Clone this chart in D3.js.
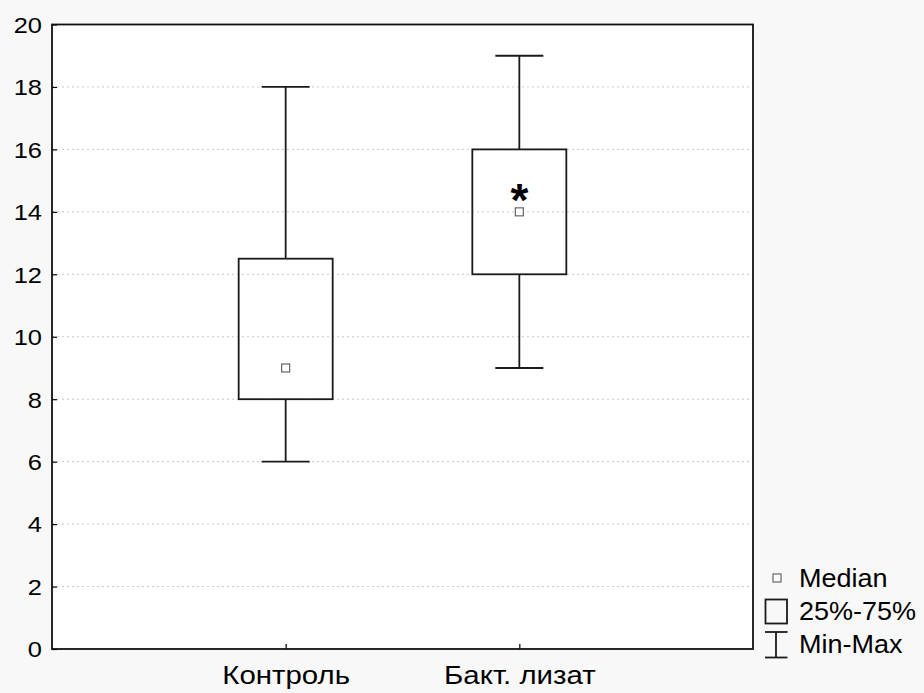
<!DOCTYPE html>
<html><head><meta charset="utf-8">
<script src="https://cdn.jsdelivr.net/npm/d3@7"></script>
<style>body{margin:0;background:#f8f8f8;}svg{display:block;}</style>
</head><body><svg id="c" width="924" height="693"></svg>
<script>
const categories = ["Контроль", "Бакт. лизат"];
const mins = [6, 9];
const q1s = [8, 12];
const medians = [9, 14];
const q3s = [12.5, 16];
const maxs = [18, 19];
const yTicks = [0, 2, 4, 6, 8, 10, 12, 14, 16, 18, 20];
const legendLabels = ["Median", "25%-75%", "Min-Max"];

const svg = d3.select("#c");
const m = {l: 52, r: 753, t: 24.5, b: 649};
const font = "Liberation Sans, Arial, sans-serif";
const x = d3.scalePoint().domain(categories).range([m.l, m.r]).padding(1);
const y = d3.scaleLinear().domain([0, 20]).range([m.b, m.t]);

function stretch(sel, k) {
  sel.each(function() {
    const w = this.getComputedTextLength();
    d3.select(this).attr("textLength", w * k).attr("lengthAdjust", "spacingAndGlyphs");
  });
}

svg.append("rect").attr("x", m.l).attr("y", m.t).attr("width", m.r - m.l).attr("height", m.b - m.t).attr("fill", "#fff");

// grid
svg.append("g").selectAll("line").data(yTicks.filter(d => d > 0 && d < 20)).join("line")
  .attr("x1", m.l).attr("x2", m.r).attr("y1", d => y(d)).attr("y2", d => y(d))
  .attr("stroke", "#c8c8c8").attr("stroke-dasharray", "2,3").attr("stroke-width", 1);

// y axis
const ya = svg.append("g").attr("transform", `translate(${m.l},0)`)
  .call(d3.axisLeft(y).tickValues(yTicks).tickSize(-5).tickPadding(10));
ya.select(".domain").remove();
ya.selectAll(".tick line").attr("stroke", "#000").attr("stroke-width", 1.2);
ya.selectAll("text").attr("font-family", font).attr("font-size", 22.5).attr("fill", "#000").attr("dy", "0.35em");
stretch(ya.selectAll("text"), 1.13);

// x axis
const xa = svg.append("g").attr("transform", `translate(0,${m.b})`)
  .call(d3.axisBottom(x).tickSize(-5).tickPadding(17));
xa.select(".domain").remove();
xa.selectAll(".tick line").attr("stroke", "#000").attr("stroke-width", 1.2);
xa.selectAll("text").attr("font-family", font).attr("font-size", 26).attr("fill", "#000");
stretch(xa.selectAll("text"), 1.13);

// frame
svg.append("rect").attr("x", m.l).attr("y", m.t).attr("width", m.r - m.l).attr("height", m.b - m.t)
  .attr("fill", "none").attr("stroke", "#111").attr("stroke-width", 1.8);

const boxW = 94, capW = 48;
const g = svg.append("g");
categories.forEach((c, i) => {
  const cx = x(c);
  const st = "#1a1a1a", sw = 1.8;
  g.append("line").attr("x1", cx).attr("x2", cx).attr("y1", y(maxs[i])).attr("y2", y(q3s[i])).attr("stroke", st).attr("stroke-width", sw);
  g.append("line").attr("x1", cx).attr("x2", cx).attr("y1", y(q1s[i])).attr("y2", y(mins[i])).attr("stroke", st).attr("stroke-width", sw);
  [maxs[i], mins[i]].forEach(v => g.append("line").attr("x1", cx - capW/2).attr("x2", cx + capW/2).attr("y1", y(v)).attr("y2", y(v)).attr("stroke", st).attr("stroke-width", sw));
  g.append("rect").attr("x", cx - boxW/2).attr("y", y(q3s[i])).attr("width", boxW).attr("height", y(q1s[i]) - y(q3s[i]))
    .attr("fill", "none").attr("stroke", st).attr("stroke-width", sw);
  g.append("rect").attr("x", cx - 4).attr("y", y(medians[i]) - 4).attr("width", 8).attr("height", 8)
    .attr("fill", "#fff").attr("stroke", "#666").attr("stroke-width", 1.2);
});
// significance asterisk
g.append("text").attr("x", x(categories[1])).attr("y", y(medians[1]) + 4).attr("text-anchor", "middle")
  .attr("font-family", font).attr("font-size", 46).attr("font-weight", "bold").text("*");

// legend
const lg = svg.append("g");
lg.append("rect").attr("x", 773).attr("y", 574).attr("width", 8).attr("height", 8).attr("fill", "#fff").attr("stroke", "#666").attr("stroke-width", 1.2);
lg.append("rect").attr("x", 765.5).attr("y", 599.5).attr("width", 21.5).attr("height", 24).attr("fill", "none").attr("stroke", "#1a1a1a").attr("stroke-width", 1.8);
lg.append("line").attr("x1", 776).attr("x2", 776).attr("y1", 632).attr("y2", 657.5).attr("stroke", "#1a1a1a").attr("stroke-width", 1.8);
lg.append("line").attr("x1", 765).attr("x2", 787.5).attr("y1", 632).attr("y2", 632).attr("stroke", "#1a1a1a").attr("stroke-width", 1.8);
lg.append("line").attr("x1", 765).attr("x2", 787.5).attr("y1", 657.5).attr("y2", 657.5).attr("stroke", "#1a1a1a").attr("stroke-width", 1.8);
const lt = lg.selectAll("text.l").data(legendLabels).join("text").attr("class", "l")
  .attr("x", 799).attr("y", (d, i) => 587 + i * 33).attr("font-family", font).attr("font-size", 25).text(d => d);
stretch(lt, 1.08);
</script></body></html>
